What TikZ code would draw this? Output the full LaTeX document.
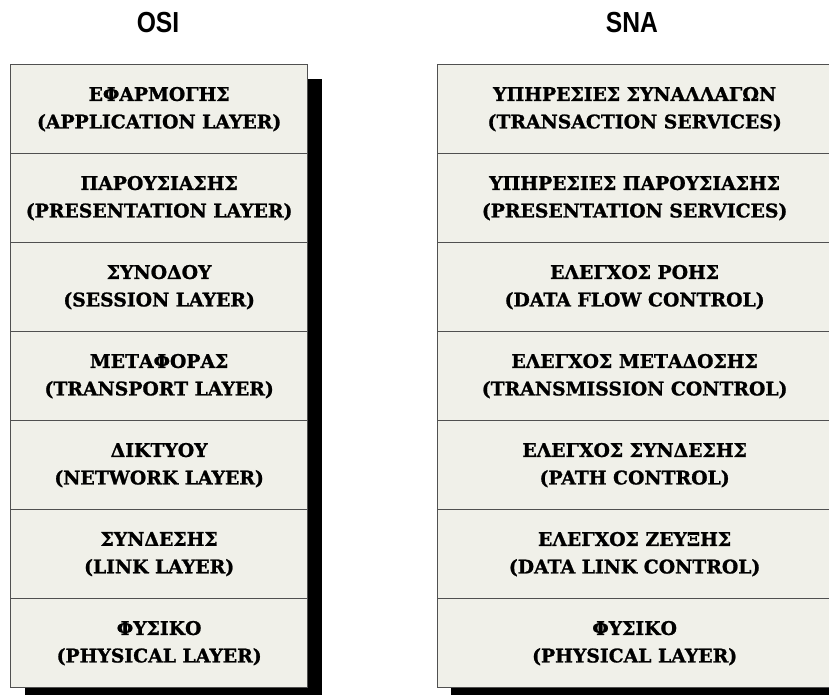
\documentclass[tikz,border=0pt]{standalone}
\usepackage{fontspec}
\setmainfont{DejaVu Serif}[BoldFeatures={FakeBold=1.2}]
\newfontfamily\titlefont{Liberation Sans}
\definecolor{layerfill}{HTML}{F0F0E9}
\definecolor{layerline}{HTML}{505050}
\begin{document}
\begin{tikzpicture}[x=1pt,y=-1pt,
  layer/.style={draw=layerline, line width=1.3pt, fill=layerfill,
    minimum width=#1, minimum height=89pt, inner sep=0pt,
    align=center, font=\bfseries\fontsize{18.8}{27.5}\selectfont, anchor=north west},
  layer/.default=297pt,
  heading/.style={font=\titlefont\bfseries\fontsize{29}{30}\selectfont, inner sep=0pt}]
\useasboundingbox (0,0) rectangle (829,694);

% drop shadows behind the two stacks
\fill[black] (25,79) rectangle (322,702);
\fill[black] (451,79) rectangle (846,702);

% headings
\node[heading] (osi) at (158,23) {\scalebox{0.85}[1]{OSI}};
\node[heading] (sna) at (632,23) {\scalebox{0.85}[1]{SNA}};

% OSI stack
\node[layer] (o1) at (10,64)  {ΕΦΑΡΜΟΓΗΣ\\(APPLICATION LAYER)};
\node[layer] (o2) at (10,153) {ΠΑΡΟΥΣΙΑΣΗΣ\\(PRESENTATION LAYER)};
\node[layer] (o3) at (10,242) {ΣΥΝΟΔΟΥ\\(SESSION LAYER)};
\node[layer] (o4) at (10,331) {ΜΕΤΑΦΟΡΑΣ\\(TRANSPORT LAYER)};
\node[layer] (o5) at (10,420) {ΔΙΚΤΥΟΥ\\(NETWORK LAYER)};
\node[layer] (o6) at (10,509) {ΣΥΝΔΕΣΗΣ\\(LINK LAYER)};
\node[layer] (o7) at (10,598) {ΦΥΣΙΚΟ\\(PHYSICAL LAYER)};

% SNA stack
\node[layer=394pt] (s1) at (437,64)  {ΥΠΗΡΕΣΙΕΣ ΣΥΝΑΛΛΑΓΩΝ\\(TRANSACTION SERVICES)};
\node[layer=394pt] (s2) at (437,153) {ΥΠΗΡΕΣΙΕΣ ΠΑΡΟΥΣΙΑΣΗΣ\\(PRESENTATION SERVICES)};
\node[layer=394pt] (s3) at (437,242) {ΕΛΕΓΧΟΣ ΡΟΗΣ\\(DATA FLOW CONTROL)};
\node[layer=394pt] (s4) at (437,331) {ΕΛΕΓΧΟΣ ΜΕΤΑΔΟΣΗΣ\\(TRANSMISSION CONTROL)};
\node[layer=394pt] (s5) at (437,420) {ΕΛΕΓΧΟΣ ΣΥΝΔΕΣΗΣ\\(PATH CONTROL)};
\node[layer=394pt] (s6) at (437,509) {ΕΛΕΓΧΟΣ ΖΕΥΞΗΣ\\(DATA LINK CONTROL)};
\node[layer=394pt] (s7) at (437,598) {ΦΥΣΙΚΟ\\(PHYSICAL LAYER)};
\end{tikzpicture}
\end{document}
